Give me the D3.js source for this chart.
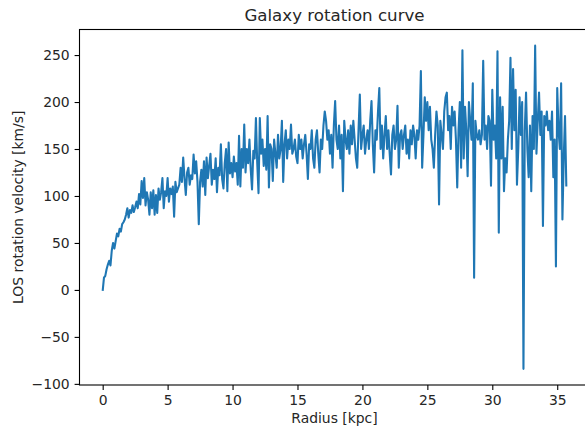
<!DOCTYPE html>
<html>
<head>
<meta charset="utf-8">
<script src="https://cdn.jsdelivr.net/npm/d3@7"></script>
<style>
  body { margin: 0; background: #fff; }
  svg { display: block; font-family: "DejaVu Sans", sans-serif; }
</style>
</head>
<body>
<svg id="chart" width="585" height="429"></svg>
<script>
// radius [kpc], one sample per 0.1 kpc
var radius = [
  0, 0.1, 0.2, 0.3, 0.4, 0.5, 0.6, 0.7, 0.8, 0.9,
  1, 1.1, 1.2, 1.3, 1.4, 1.5, 1.6, 1.7, 1.8, 1.9,
  2, 2.1, 2.2, 2.3, 2.4, 2.5, 2.6, 2.7, 2.8, 2.9,
  3, 3.1, 3.2, 3.3, 3.4, 3.5, 3.6, 3.7, 3.8, 3.9,
  4, 4.1, 4.2, 4.3, 4.4, 4.5, 4.6, 4.7, 4.8, 4.9,
  5, 5.1, 5.2, 5.3, 5.4, 5.5, 5.6, 5.7, 5.8, 5.9,
  6, 6.1, 6.2, 6.3, 6.4, 6.5, 6.6, 6.7, 6.8, 6.9,
  7, 7.1, 7.2, 7.3, 7.4, 7.5, 7.6, 7.7, 7.8, 7.9,
  8, 8.1, 8.2, 8.3, 8.4, 8.5, 8.6, 8.7, 8.8, 8.9,
  9, 9.1, 9.2, 9.3, 9.4, 9.5, 9.6, 9.7, 9.8, 9.9,
  10, 10.1, 10.2, 10.3, 10.4, 10.5, 10.6, 10.7, 10.8, 10.9,
  11, 11.1, 11.2, 11.3, 11.4, 11.5, 11.6, 11.7, 11.8, 11.9,
  12, 12.1, 12.2, 12.3, 12.4, 12.5, 12.6, 12.7, 12.8, 12.9,
  13, 13.1, 13.2, 13.3, 13.4, 13.5, 13.6, 13.7, 13.8, 13.9,
  14, 14.1, 14.2, 14.3, 14.4, 14.5, 14.6, 14.7, 14.8, 14.9,
  15, 15.1, 15.2, 15.3, 15.4, 15.5, 15.6, 15.7, 15.8, 15.9,
  16, 16.1, 16.2, 16.3, 16.4, 16.5, 16.6, 16.7, 16.8, 16.9,
  17, 17.1, 17.2, 17.3, 17.4, 17.5, 17.6, 17.7, 17.8, 17.9,
  18, 18.1, 18.2, 18.3, 18.4, 18.5, 18.6, 18.7, 18.8, 18.9,
  19, 19.1, 19.2, 19.3, 19.4, 19.5, 19.6, 19.7, 19.8, 19.9,
  20, 20.1, 20.2, 20.3, 20.4, 20.5, 20.6, 20.7, 20.8, 20.9,
  21, 21.1, 21.2, 21.3, 21.4, 21.5, 21.6, 21.7, 21.8, 21.9,
  22, 22.1, 22.2, 22.3, 22.4, 22.5, 22.6, 22.7, 22.8, 22.9,
  23, 23.1, 23.2, 23.3, 23.4, 23.5, 23.6, 23.7, 23.8, 23.9,
  24, 24.1, 24.2, 24.3, 24.4, 24.5, 24.6, 24.7, 24.8, 24.9,
  25, 25.1, 25.2, 25.3, 25.4, 25.5, 25.6, 25.7, 25.8, 25.9,
  26, 26.1, 26.2, 26.3, 26.4, 26.5, 26.6, 26.7, 26.8, 26.9,
  27, 27.1, 27.2, 27.3, 27.4, 27.5, 27.6, 27.7, 27.8, 27.9,
  28, 28.1, 28.2, 28.3, 28.4, 28.5, 28.6, 28.7, 28.8, 28.9,
  29, 29.1, 29.2, 29.3, 29.4, 29.5, 29.6, 29.7, 29.8, 29.9,
  30, 30.1, 30.2, 30.3, 30.4, 30.5, 30.6, 30.7, 30.8, 30.9,
  31, 31.1, 31.2, 31.3, 31.4, 31.5, 31.6, 31.7, 31.8, 31.9,
  32, 32.1, 32.2, 32.3, 32.4, 32.5, 32.6, 32.7, 32.8, 32.9,
  33, 33.1, 33.2, 33.3, 33.4, 33.5, 33.6, 33.7, 33.8, 33.9,
  34, 34.1, 34.2, 34.3, 34.4, 34.5, 34.6, 34.7, 34.8, 34.9,
  35, 35.1, 35.2, 35.3, 35.4, 35.5, 35.6, 35.7
];

// LOS rotation velocity [km/s]
var velocity = [
  -1, 13, 15, 22, 27, 31, 26, 42, 50, 44,
  52, 60, 57, 65, 62, 70, 72, 75, 80, 87,
  77, 85, 82, 90, 83, 88, 94, 87, 102, 91,
  116, 98, 119, 90, 104, 96, 80, 104, 87, 106,
  80, 101, 82, 108, 96, 104, 119, 87, 105, 100,
  119, 94, 108, 102, 110, 78, 115, 104, 108, 112,
  130, 115, 141, 119, 101, 125, 130, 112, 122, 118,
  144, 124, 137, 115, 70, 115, 128, 110, 137, 101,
  141, 119, 132, 145, 112, 128, 118, 140, 104, 130,
  122, 155, 118, 108, 135, 150, 105, 157, 124, 135,
  120, 142, 126, 135, 112, 164, 110, 150, 130, 176,
  125, 150, 135, 160, 128, 107, 148, 140, 183, 135,
  103, 183, 145, 160, 132, 150, 128, 185, 109, 155,
  150, 116, 160, 145, 130, 165, 140, 150, 180, 115,
  155, 170, 140, 160, 150, 176, 145, 150, 160, 142,
  135, 165, 150, 160, 140, 155, 165, 145, 118, 155,
  150, 170, 140, 130, 160, 170, 145, 125, 160, 150,
  175, 190, 180, 160, 170, 145, 165, 130, 175, 201,
  160, 150, 175, 140, 165, 105, 180, 160, 150, 170,
  145, 175, 155, 180, 160, 140, 130, 170, 208, 150,
  165, 175, 145, 160, 170, 150, 180, 201, 155, 125,
  170, 160, 190, 215, 150, 175, 140, 165, 185, 150,
  170, 145, 123, 165, 175, 150, 160, 196, 130, 165,
  170, 150, 165, 175, 145, 160, 140, 170, 155, 175,
  165, 140, 170, 160, 175, 233, 130, 165, 205, 180,
  200, 170, 195, 160, 150, 130, 165, 190, 175, 91,
  180, 165, 150, 190, 205, 210, 170, 185, 150, 195,
  175, 190, 160, 109, 170, 200, 130, 255, 140, 195,
  170, 121, 200, 180, 160, 220, 13, 180, 165, 160,
  170, 155, 165, 244, 160, 175, 150, 185, 180, 111,
  213, 160, 175, 140, 254, 61, 205, 140, 195, 105,
  140, 125, 160, 180, 247, 150, 235, 170, 213, 112,
  150, 205, 165, 200, -84, 170, 210, 150, 120, 175,
  105, 185, 150, 260, 145, 180, 210, 165, 190, 68,
  185, 175, 190, 170, 180, 160, 190, 120, 160, 25,
  215, 170, 150, 220, 75, 140, 185, 110
];

var xTicks = [0, 5, 10, 15, 20, 25, 30, 35];
var yTicks = [-100, -50, 0, 50, 100, 150, 200, 250];
var xDomain = [-1.785, 37.485];
var yDomain = [-101.2, 277.2];

var titleText = "Galaxy rotation curve";
var xLabelText = "Radius [kpc]";
var yLabelText = "LOS rotation velocity [km/s]";

var svg = d3.select("#chart");

// axes box (right edge falls just outside the window, as in the picture)
var plotLeft = 79.5, plotRight = 589.5, plotTop = 29.5, plotBottom = 385;
var fontSize = 13.9;

var x = d3.scaleLinear().domain(xDomain).range([plotLeft, plotRight]);
var y = d3.scaleLinear().domain(yDomain).range([plotBottom, plotTop]);

var points = radius.map(function(r, i) {
    return { r: r, v: velocity[i] };
});

var line = d3.line()
    .x(function(d) { return x(d.r); })
    .y(function(d) { return y(d.v); });

svg.append("path")
    .datum(points)
    .attr("fill", "none")
    .attr("stroke", "#1f77b4")
    .attr("stroke-width", 2.08)
    .attr("stroke-linejoin", "round")
    .attr("d", line);

// frame
svg.append("rect")
    .attr("x", plotLeft)
    .attr("y", plotTop)
    .attr("width", plotRight - plotLeft)
    .attr("height", plotBottom - plotTop)
    .attr("fill", "none")
    .attr("stroke", "#000")
    .attr("stroke-width", 1.1);

// x axis
var gx = svg.append("g")
    .attr("transform", "translate(0," + plotBottom + ")")
    .call(d3.axisBottom(x).tickValues(xTicks).tickSize(4.9).tickPadding(4.9).tickFormat(d3.format("d")));

// y axis
var gy = svg.append("g")
    .attr("transform", "translate(" + plotLeft + ",0)")
    .call(d3.axisLeft(y).tickValues(yTicks).tickSize(4.9).tickPadding(4.9).tickFormat(d3.format("d")));

[gx, gy].forEach(function(g) {
    g.select(".domain").remove();
    g.attr("font-size", fontSize).attr("font-family", "DejaVu Sans, sans-serif");
    g.selectAll(".tick line").attr("stroke", "#000").attr("stroke-width", 1.1);
    g.selectAll(".tick text").attr("fill", "#262626");
});

// title and axis labels
svg.append("text")
    .attr("x", (plotLeft + plotRight) / 2)
    .attr("y", 20.5)
    .attr("text-anchor", "middle")
    .attr("font-size", 16.67)
    .attr("fill", "#262626")
    .text(titleText);

svg.append("text")
    .attr("x", (plotLeft + plotRight) / 2)
    .attr("y", 423)
    .attr("text-anchor", "middle")
    .attr("font-size", fontSize)
    .attr("fill", "#262626")
    .text(xLabelText);

svg.append("text")
    .attr("transform", "translate(22.8," + ((plotTop + plotBottom) / 2) + ") rotate(-90)")
    .attr("text-anchor", "middle")
    .attr("font-size", fontSize)
    .attr("fill", "#262626")
    .text(yLabelText);
</script>
</body>
</html>
